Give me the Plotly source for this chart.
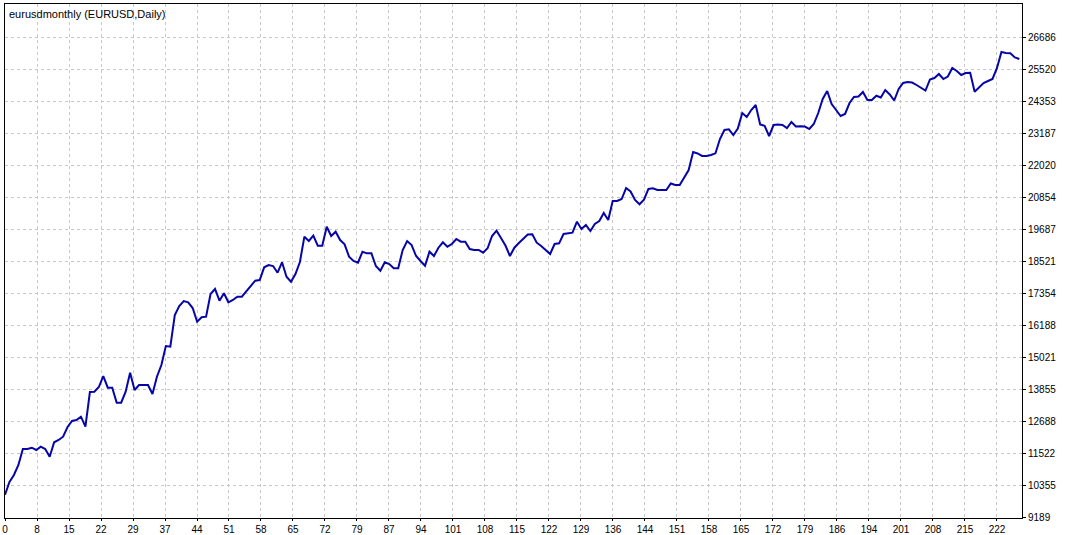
import numpy as np
import plotly.graph_objects as go

title_text = "eurusdmonthly (EURUSD,Daily)"

balance = [
    10000, 10465, 10720, 11085, 11668, 11668, 11715, 11632, 11752, 11668,
    11387, 11912, 11996, 12116, 12470, 12689, 12725, 12846, 12481, 13746,
    13757, 13928, 14329, 13903, 13903, 13356, 13356, 13757, 14450, 13819,
    14001, 14001, 14001, 13673, 14304, 14730, 15423, 15397, 16553, 16881,
    17063, 17016, 16808, 16309, 16469, 16491, 17319, 17501, 17075, 17344,
    17016, 17100, 17220, 17220, 17403, 17610, 17804, 17829, 18292, 18376,
    18339, 18095, 18474, 17949, 17767, 18048, 18485, 19408, 19251, 19444,
    19080, 19080, 19772, 19433, 19590, 19287, 19131, 18679, 18522, 18460,
    18861, 18802, 18802, 18339, 18168, 18474, 18412, 18256, 18256, 18923,
    19251, 19105, 18704, 18522, 18350, 18861, 18704, 19007, 19204, 19043,
    19141, 19324, 19225, 19225, 18959, 18923, 18923, 18824, 18985, 19433,
    19626, 19360, 19087, 18704, 19007, 19178, 19349, 19488, 19495, 19189,
    19069, 18923, 18777, 19141, 19167, 19506, 19532, 19554, 19954, 19688,
    19834, 19615, 19871, 19980, 20272, 20016, 20709, 20709, 20782, 21183,
    21055, 20746, 20589, 20757, 21147, 21172, 21110, 21110, 21110, 21347,
    21292, 21292, 21548, 21839, 22495, 22441, 22350, 22350, 22386, 22448,
    22969, 23297, 23323, 23115, 23352, 23917, 23771, 24027, 24209, 23498,
    23451, 23079, 23480, 23498, 23480, 23370, 23589, 23425, 23432, 23425,
    23334, 23516, 23917, 24428, 24719, 24245, 24027, 23808, 23881, 24282,
    24501, 24519, 24683, 24391, 24391, 24548, 24482, 24756, 24592, 24373,
    24792, 25011, 25047, 25029, 24938, 24847, 24737, 25139, 25193, 25339,
    25157, 25248, 25558, 25448, 25303, 25375, 25386, 24694, 24847, 25011,
    25084, 25157, 25558, 26141, 26105, 26094, 25941, 25886,
]
trades = list(range(len(balance)))

x_tick_labels = ["0", "8", "15", "22", "29", "37", "44", "51", "58", "65", "72",
                 "79", "87", "94", "101", "108", "115", "122", "129", "136", "144",
                 "151", "158", "165", "172", "179", "186", "194", "201", "208",
                 "215", "222"]
y_tick_labels = [9189, 10355, 11522, 12688, 13855, 15021, 16188, 17354, 18521,
                 19687, 20854, 22020, 23187, 24353, 25520, 26686]

x_tickvals = np.linspace(0, float(x_tick_labels[-1]), len(x_tick_labels))

fig = go.Figure()
fig.add_trace(go.Scatter(
    x=trades, y=balance, mode="lines",
    line=dict(color="#0505a8", width=2),
    hoverinfo="skip", showlegend=False,
))

tick_font = dict(family="Liberation Sans, Arial, sans-serif", size=10, color="black")

fig.update_layout(
    width=1067, height=535,
    margin=dict(l=5, r=45, t=4, b=17, autoexpand=False),
    paper_bgcolor="white", plot_bgcolor="white",
    showlegend=False,
    xaxis=dict(
        range=[0, 227.6], automargin=False,
        tickvals=x_tickvals, ticktext=x_tick_labels,
        showgrid=True, gridcolor="#c8c8c8", griddash="3px,3px", gridwidth=1,
        showline=True, linecolor="black", linewidth=1, mirror=True,
        ticks="outside", ticklen=2, tickcolor="black",
        tickfont=tick_font, zeroline=False,
    ),
    yaxis=dict(
        range=[9153, 27891], side="right", automargin=False,
        tickvals=y_tick_labels, ticktext=[str(v) for v in y_tick_labels],
        showgrid=True, gridcolor="#c8c8c8", griddash="3px,3px", gridwidth=1,
        showline=True, linecolor="black", linewidth=1, mirror=True,
        ticks="outside", ticklen=3, tickcolor="black",
        tickfont=tick_font, zeroline=False,
    ),
    annotations=[dict(
        text=title_text, xref="paper", yref="paper", x=0, y=1,
        xanchor="left", yanchor="top", xshift=2, yshift=-2, showarrow=False,
        font=dict(family="Liberation Sans, Arial, sans-serif", size=11, color="black"),
    )],
)

fig.write_html(
    "out.html",
    config={"displayModeBar": False, "staticPlot": True},
    post_script="document.body.style.margin='0';document.body.style.padding='0';",
)
